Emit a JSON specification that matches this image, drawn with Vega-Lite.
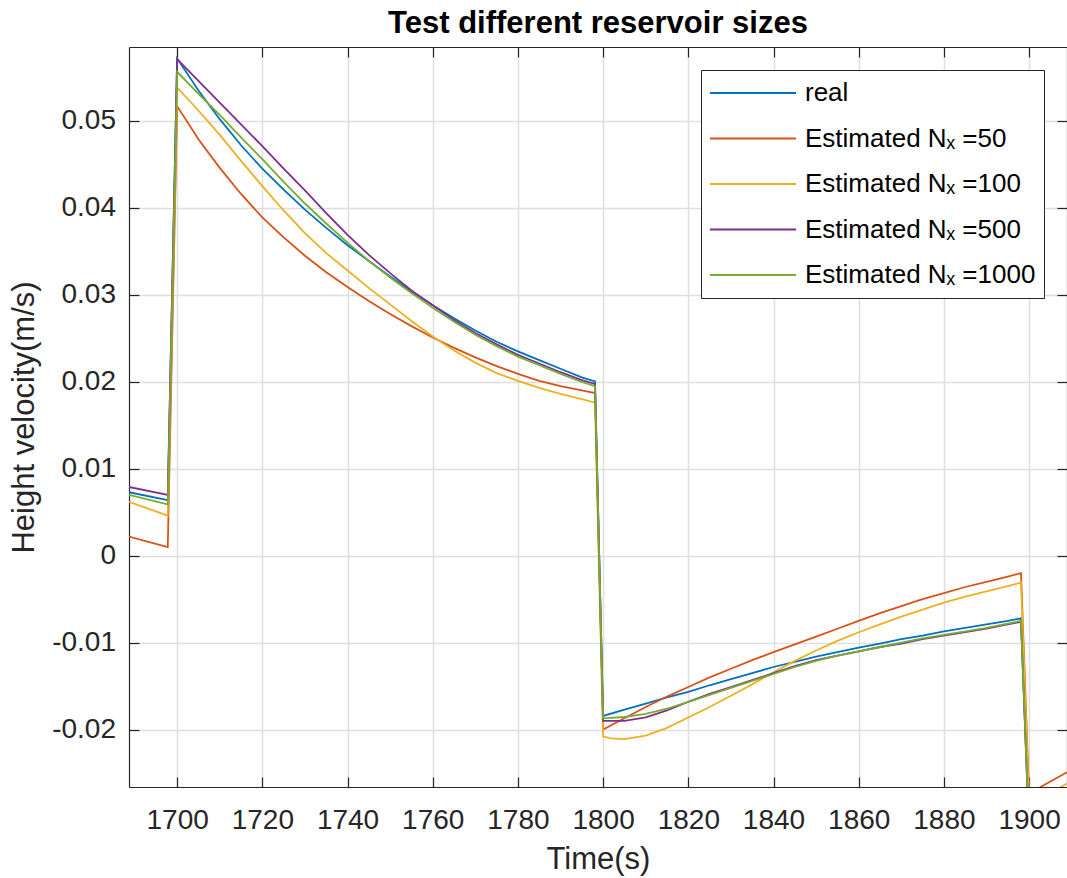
{
  "$schema": "https://vega.github.io/schema/vega-lite/v6.json",
  "width": 938,
  "height": 740,
  "autosize": {"type": "none"},
  "padding": {"left": 129, "top": 47, "right": 0, "bottom": 91},
  "background": "white",
  "title": {"text": "Test different reservoir sizes", "font": "Liberation Sans", "fontSize": 31, "fontWeight": "bold", "color": "black", "anchor": "middle", "baseline": "alphabetic", "offset": 12, "dy": 30},
  "config": {"view": {"stroke": null}},
  "datasets": {
    "curves": [
      {"s": "real", "t": 1688.7, "v": 0.0073}, {"s": "real", "t": 1697.8, "v": 0.0064},
      {"s": "real", "t": 1700, "v": 0.0572}, {"s": "real", "t": 1705, "v": 0.0535}, {"s": "real", "t": 1710, "v": 0.0502}, {"s": "real", "t": 1715, "v": 0.0472},
      {"s": "real", "t": 1720, "v": 0.0445}, {"s": "real", "t": 1725, "v": 0.0421}, {"s": "real", "t": 1730, "v": 0.0398}, {"s": "real", "t": 1735, "v": 0.0377},
      {"s": "real", "t": 1740, "v": 0.0357}, {"s": "real", "t": 1745, "v": 0.0339}, {"s": "real", "t": 1750, "v": 0.0321}, {"s": "real", "t": 1755, "v": 0.0304},
      {"s": "real", "t": 1760, "v": 0.0288}, {"s": "real", "t": 1765, "v": 0.0273}, {"s": "real", "t": 1770, "v": 0.0259}, {"s": "real", "t": 1775, "v": 0.0246},
      {"s": "real", "t": 1780, "v": 0.0235}, {"s": "real", "t": 1785, "v": 0.0225}, {"s": "real", "t": 1790, "v": 0.0215}, {"s": "real", "t": 1795, "v": 0.0205},
      {"s": "real", "t": 1798.1, "v": 0.02005},
      {"s": "real", "t": 1800, "v": -0.01843}, {"s": "real", "t": 1805, "v": -0.0177}, {"s": "real", "t": 1810, "v": -0.017}, {"s": "real", "t": 1815, "v": -0.0163},
      {"s": "real", "t": 1820, "v": -0.01567}, {"s": "real", "t": 1825, "v": -0.0149}, {"s": "real", "t": 1830, "v": -0.0142}, {"s": "real", "t": 1835, "v": -0.0135},
      {"s": "real", "t": 1840, "v": -0.0128}, {"s": "real", "t": 1845, "v": -0.0122}, {"s": "real", "t": 1850, "v": -0.0116}, {"s": "real", "t": 1855, "v": -0.0111},
      {"s": "real", "t": 1860, "v": -0.01056}, {"s": "real", "t": 1865, "v": -0.0101}, {"s": "real", "t": 1870, "v": -0.0096}, {"s": "real", "t": 1875, "v": -0.0092},
      {"s": "real", "t": 1880, "v": -0.0087}, {"s": "real", "t": 1885, "v": -0.0083}, {"s": "real", "t": 1890, "v": -0.0079}, {"s": "real", "t": 1895, "v": -0.0075},
      {"s": "real", "t": 1898.1, "v": -0.0072},
      {"s": "real", "t": 1900, "v": -0.0312}, {"s": "real", "t": 1908.9, "v": -0.0298},

      {"s": "Estimated Nₓ =50", "t": 1688.7, "v": 0.0022}, {"s": "Estimated Nₓ =50", "t": 1697.8, "v": 0.001},
      {"s": "Estimated Nₓ =50", "t": 1700, "v": 0.0517}, {"s": "Estimated Nₓ =50", "t": 1705, "v": 0.0479}, {"s": "Estimated Nₓ =50", "t": 1710, "v": 0.0446}, {"s": "Estimated Nₓ =50", "t": 1715, "v": 0.0416},
      {"s": "Estimated Nₓ =50", "t": 1720, "v": 0.0389}, {"s": "Estimated Nₓ =50", "t": 1725, "v": 0.0366}, {"s": "Estimated Nₓ =50", "t": 1730, "v": 0.0345}, {"s": "Estimated Nₓ =50", "t": 1735, "v": 0.0326},
      {"s": "Estimated Nₓ =50", "t": 1740, "v": 0.0309}, {"s": "Estimated Nₓ =50", "t": 1745, "v": 0.0293}, {"s": "Estimated Nₓ =50", "t": 1750, "v": 0.0278}, {"s": "Estimated Nₓ =50", "t": 1755, "v": 0.0264},
      {"s": "Estimated Nₓ =50", "t": 1760, "v": 0.0251}, {"s": "Estimated Nₓ =50", "t": 1765, "v": 0.0239}, {"s": "Estimated Nₓ =50", "t": 1770, "v": 0.0228}, {"s": "Estimated Nₓ =50", "t": 1775, "v": 0.0218},
      {"s": "Estimated Nₓ =50", "t": 1780, "v": 0.0209}, {"s": "Estimated Nₓ =50", "t": 1785, "v": 0.0201}, {"s": "Estimated Nₓ =50", "t": 1790, "v": 0.0195}, {"s": "Estimated Nₓ =50", "t": 1795, "v": 0.019},
      {"s": "Estimated Nₓ =50", "t": 1798.1, "v": 0.0187},
      {"s": "Estimated Nₓ =50", "t": 1800, "v": -0.02}, {"s": "Estimated Nₓ =50", "t": 1805, "v": -0.0187}, {"s": "Estimated Nₓ =50", "t": 1810, "v": -0.0174}, {"s": "Estimated Nₓ =50", "t": 1815, "v": -0.0162},
      {"s": "Estimated Nₓ =50", "t": 1820, "v": -0.0151}, {"s": "Estimated Nₓ =50", "t": 1825, "v": -0.014}, {"s": "Estimated Nₓ =50", "t": 1830, "v": -0.013}, {"s": "Estimated Nₓ =50", "t": 1835, "v": -0.012},
      {"s": "Estimated Nₓ =50", "t": 1840, "v": -0.0111}, {"s": "Estimated Nₓ =50", "t": 1845, "v": -0.0102}, {"s": "Estimated Nₓ =50", "t": 1850, "v": -0.0093}, {"s": "Estimated Nₓ =50", "t": 1855, "v": -0.0084},
      {"s": "Estimated Nₓ =50", "t": 1860, "v": -0.0075}, {"s": "Estimated Nₓ =50", "t": 1865, "v": -0.0066}, {"s": "Estimated Nₓ =50", "t": 1870, "v": -0.0058}, {"s": "Estimated Nₓ =50", "t": 1875, "v": -0.005},
      {"s": "Estimated Nₓ =50", "t": 1880, "v": -0.0043}, {"s": "Estimated Nₓ =50", "t": 1885, "v": -0.0036}, {"s": "Estimated Nₓ =50", "t": 1890, "v": -0.003}, {"s": "Estimated Nₓ =50", "t": 1895, "v": -0.0024},
      {"s": "Estimated Nₓ =50", "t": 1898.1, "v": -0.002},
      {"s": "Estimated Nₓ =50", "t": 1900, "v": -0.0275}, {"s": "Estimated Nₓ =50", "t": 1902.7, "v": -0.0266}, {"s": "Estimated Nₓ =50", "t": 1908.9, "v": -0.0249},

      {"s": "Estimated Nₓ =100", "t": 1688.7, "v": 0.0062}, {"s": "Estimated Nₓ =100", "t": 1697.8, "v": 0.0046},
      {"s": "Estimated Nₓ =100", "t": 1700, "v": 0.05385}, {"s": "Estimated Nₓ =100", "t": 1705, "v": 0.0512}, {"s": "Estimated Nₓ =100", "t": 1710, "v": 0.0484}, {"s": "Estimated Nₓ =100", "t": 1715, "v": 0.0454},
      {"s": "Estimated Nₓ =100", "t": 1720, "v": 0.0425}, {"s": "Estimated Nₓ =100", "t": 1725, "v": 0.0397}, {"s": "Estimated Nₓ =100", "t": 1730, "v": 0.0371}, {"s": "Estimated Nₓ =100", "t": 1735, "v": 0.0348},
      {"s": "Estimated Nₓ =100", "t": 1740, "v": 0.0328}, {"s": "Estimated Nₓ =100", "t": 1745, "v": 0.0308}, {"s": "Estimated Nₓ =100", "t": 1750, "v": 0.0289}, {"s": "Estimated Nₓ =100", "t": 1755, "v": 0.027},
      {"s": "Estimated Nₓ =100", "t": 1760, "v": 0.0252}, {"s": "Estimated Nₓ =100", "t": 1765, "v": 0.0236}, {"s": "Estimated Nₓ =100", "t": 1770, "v": 0.0222}, {"s": "Estimated Nₓ =100", "t": 1775, "v": 0.021},
      {"s": "Estimated Nₓ =100", "t": 1780, "v": 0.0201}, {"s": "Estimated Nₓ =100", "t": 1785, "v": 0.0193}, {"s": "Estimated Nₓ =100", "t": 1790, "v": 0.0186}, {"s": "Estimated Nₓ =100", "t": 1795, "v": 0.018},
      {"s": "Estimated Nₓ =100", "t": 1798.1, "v": 0.0176},
      {"s": "Estimated Nₓ =100", "t": 1800, "v": -0.0208}, {"s": "Estimated Nₓ =100", "t": 1802, "v": -0.021}, {"s": "Estimated Nₓ =100", "t": 1805, "v": -0.0211}, {"s": "Estimated Nₓ =100", "t": 1810, "v": -0.0207},
      {"s": "Estimated Nₓ =100", "t": 1815, "v": -0.0198}, {"s": "Estimated Nₓ =100", "t": 1820, "v": -0.0186}, {"s": "Estimated Nₓ =100", "t": 1825, "v": -0.0174}, {"s": "Estimated Nₓ =100", "t": 1830, "v": -0.0161},
      {"s": "Estimated Nₓ =100", "t": 1835, "v": -0.0148}, {"s": "Estimated Nₓ =100", "t": 1840, "v": -0.0134}, {"s": "Estimated Nₓ =100", "t": 1845, "v": -0.0121}, {"s": "Estimated Nₓ =100", "t": 1850, "v": -0.0109},
      {"s": "Estimated Nₓ =100", "t": 1855, "v": -0.0098}, {"s": "Estimated Nₓ =100", "t": 1860, "v": -0.0088}, {"s": "Estimated Nₓ =100", "t": 1865, "v": -0.0079}, {"s": "Estimated Nₓ =100", "t": 1870, "v": -0.007},
      {"s": "Estimated Nₓ =100", "t": 1875, "v": -0.0062}, {"s": "Estimated Nₓ =100", "t": 1880, "v": -0.0054}, {"s": "Estimated Nₓ =100", "t": 1885, "v": -0.0047}, {"s": "Estimated Nₓ =100", "t": 1890, "v": -0.0041},
      {"s": "Estimated Nₓ =100", "t": 1895, "v": -0.0035}, {"s": "Estimated Nₓ =100", "t": 1898.1, "v": -0.0031},
      {"s": "Estimated Nₓ =100", "t": 1900, "v": -0.0279}, {"s": "Estimated Nₓ =100", "t": 1903, "v": -0.0281}, {"s": "Estimated Nₓ =100", "t": 1907.5, "v": -0.0266}, {"s": "Estimated Nₓ =100", "t": 1908.9, "v": -0.0262},

      {"s": "Estimated Nₓ =500", "t": 1688.7, "v": 0.0079}, {"s": "Estimated Nₓ =500", "t": 1697.8, "v": 0.007},
      {"s": "Estimated Nₓ =500", "t": 1700, "v": 0.0571}, {"s": "Estimated Nₓ =500", "t": 1705, "v": 0.0546}, {"s": "Estimated Nₓ =500", "t": 1710, "v": 0.0521}, {"s": "Estimated Nₓ =500", "t": 1715, "v": 0.0496},
      {"s": "Estimated Nₓ =500", "t": 1720, "v": 0.0471}, {"s": "Estimated Nₓ =500", "t": 1725, "v": 0.0445}, {"s": "Estimated Nₓ =500", "t": 1730, "v": 0.042}, {"s": "Estimated Nₓ =500", "t": 1735, "v": 0.0394},
      {"s": "Estimated Nₓ =500", "t": 1740, "v": 0.0369}, {"s": "Estimated Nₓ =500", "t": 1745, "v": 0.0346}, {"s": "Estimated Nₓ =500", "t": 1750, "v": 0.0325}, {"s": "Estimated Nₓ =500", "t": 1755, "v": 0.0305},
      {"s": "Estimated Nₓ =500", "t": 1760, "v": 0.0288}, {"s": "Estimated Nₓ =500", "t": 1765, "v": 0.0271}, {"s": "Estimated Nₓ =500", "t": 1770, "v": 0.0256}, {"s": "Estimated Nₓ =500", "t": 1775, "v": 0.0243},
      {"s": "Estimated Nₓ =500", "t": 1780, "v": 0.0231}, {"s": "Estimated Nₓ =500", "t": 1785, "v": 0.0221}, {"s": "Estimated Nₓ =500", "t": 1790, "v": 0.0211}, {"s": "Estimated Nₓ =500", "t": 1795, "v": 0.0202},
      {"s": "Estimated Nₓ =500", "t": 1798.1, "v": 0.01975},
      {"s": "Estimated Nₓ =500", "t": 1800, "v": -0.019}, {"s": "Estimated Nₓ =500", "t": 1805, "v": -0.019}, {"s": "Estimated Nₓ =500", "t": 1810, "v": -0.0186}, {"s": "Estimated Nₓ =500", "t": 1815, "v": -0.0178},
      {"s": "Estimated Nₓ =500", "t": 1820, "v": -0.0168}, {"s": "Estimated Nₓ =500", "t": 1825, "v": -0.0159}, {"s": "Estimated Nₓ =500", "t": 1830, "v": -0.0151}, {"s": "Estimated Nₓ =500", "t": 1835, "v": -0.0143},
      {"s": "Estimated Nₓ =500", "t": 1840, "v": -0.0135}, {"s": "Estimated Nₓ =500", "t": 1845, "v": -0.0127}, {"s": "Estimated Nₓ =500", "t": 1850, "v": -0.012}, {"s": "Estimated Nₓ =500", "t": 1855, "v": -0.0115},
      {"s": "Estimated Nₓ =500", "t": 1860, "v": -0.011}, {"s": "Estimated Nₓ =500", "t": 1865, "v": -0.0105}, {"s": "Estimated Nₓ =500", "t": 1870, "v": -0.0101}, {"s": "Estimated Nₓ =500", "t": 1875, "v": -0.0096},
      {"s": "Estimated Nₓ =500", "t": 1880, "v": -0.0092}, {"s": "Estimated Nₓ =500", "t": 1885, "v": -0.0088}, {"s": "Estimated Nₓ =500", "t": 1890, "v": -0.0084}, {"s": "Estimated Nₓ =500", "t": 1895, "v": -0.0079},
      {"s": "Estimated Nₓ =500", "t": 1898.1, "v": -0.0076},
      {"s": "Estimated Nₓ =500", "t": 1900, "v": -0.032}, {"s": "Estimated Nₓ =500", "t": 1908.9, "v": -0.0304},

      {"s": "Estimated Nₓ =1000", "t": 1688.7, "v": 0.007}, {"s": "Estimated Nₓ =1000", "t": 1697.8, "v": 0.0059},
      {"s": "Estimated Nₓ =1000", "t": 1700, "v": 0.05565}, {"s": "Estimated Nₓ =1000", "t": 1705, "v": 0.0531}, {"s": "Estimated Nₓ =1000", "t": 1710, "v": 0.0507}, {"s": "Estimated Nₓ =1000", "t": 1715, "v": 0.0481},
      {"s": "Estimated Nₓ =1000", "t": 1720, "v": 0.0456}, {"s": "Estimated Nₓ =1000", "t": 1725, "v": 0.043}, {"s": "Estimated Nₓ =1000", "t": 1730, "v": 0.0405}, {"s": "Estimated Nₓ =1000", "t": 1735, "v": 0.0382},
      {"s": "Estimated Nₓ =1000", "t": 1740, "v": 0.036}, {"s": "Estimated Nₓ =1000", "t": 1745, "v": 0.0339}, {"s": "Estimated Nₓ =1000", "t": 1750, "v": 0.032}, {"s": "Estimated Nₓ =1000", "t": 1755, "v": 0.0302},
      {"s": "Estimated Nₓ =1000", "t": 1760, "v": 0.0285}, {"s": "Estimated Nₓ =1000", "t": 1765, "v": 0.0269}, {"s": "Estimated Nₓ =1000", "t": 1770, "v": 0.0254}, {"s": "Estimated Nₓ =1000", "t": 1775, "v": 0.0241},
      {"s": "Estimated Nₓ =1000", "t": 1780, "v": 0.0229}, {"s": "Estimated Nₓ =1000", "t": 1785, "v": 0.0219}, {"s": "Estimated Nₓ =1000", "t": 1790, "v": 0.0209}, {"s": "Estimated Nₓ =1000", "t": 1795, "v": 0.02},
      {"s": "Estimated Nₓ =1000", "t": 1798.1, "v": 0.0195},
      {"s": "Estimated Nₓ =1000", "t": 1800, "v": -0.0187}, {"s": "Estimated Nₓ =1000", "t": 1805, "v": -0.01855}, {"s": "Estimated Nₓ =1000", "t": 1810, "v": -0.0182}, {"s": "Estimated Nₓ =1000", "t": 1815, "v": -0.0176},
      {"s": "Estimated Nₓ =1000", "t": 1820, "v": -0.0168}, {"s": "Estimated Nₓ =1000", "t": 1825, "v": -0.016}, {"s": "Estimated Nₓ =1000", "t": 1830, "v": -0.0152}, {"s": "Estimated Nₓ =1000", "t": 1835, "v": -0.0144},
      {"s": "Estimated Nₓ =1000", "t": 1840, "v": -0.0136}, {"s": "Estimated Nₓ =1000", "t": 1845, "v": -0.0128}, {"s": "Estimated Nₓ =1000", "t": 1850, "v": -0.0121}, {"s": "Estimated Nₓ =1000", "t": 1855, "v": -0.0115},
      {"s": "Estimated Nₓ =1000", "t": 1860, "v": -0.011}, {"s": "Estimated Nₓ =1000", "t": 1865, "v": -0.0105}, {"s": "Estimated Nₓ =1000", "t": 1870, "v": -0.01}, {"s": "Estimated Nₓ =1000", "t": 1875, "v": -0.0095},
      {"s": "Estimated Nₓ =1000", "t": 1880, "v": -0.0091}, {"s": "Estimated Nₓ =1000", "t": 1885, "v": -0.0087}, {"s": "Estimated Nₓ =1000", "t": 1890, "v": -0.0083}, {"s": "Estimated Nₓ =1000", "t": 1895, "v": -0.0078},
      {"s": "Estimated Nₓ =1000", "t": 1898.1, "v": -0.0075},
      {"s": "Estimated Nₓ =1000", "t": 1900, "v": -0.0316}, {"s": "Estimated Nₓ =1000", "t": 1908.9, "v": -0.0301}
    ]
  },
  "data": {"name": "curves"},
  "layer": [
    {
      "mark": {"type": "line", "clip": true, "strokeWidth": 1.8},
      "encoding": {
        "x": {"field": "t", "type": "quantitative",
          "scale": {"domain": [1688.7, 1908.9], "nice": false, "zero": false},
          "axis": {"orient": "bottom", "values": [1700, 1720, 1740, 1760, 1780, 1800, 1820, 1840, 1860, 1880, 1900], "format": "d",
            "grid": true, "gridColor": "#dfdfdf", "gridWidth": 1.5,
            "domainColor": "#262626", "domainWidth": 1.2, "tickColor": "#262626", "tickWidth": 1.2, "tickSize": -10,
            "labelFont": "Liberation Sans", "labelFontSize": 28, "labelColor": "#262626", "labelPadding": 29, "labelFlush": false, "labelOverlap": false,
            "title": "Time(s)", "titleFont": "Liberation Sans", "titleFontSize": 31, "titleFontWeight": "normal", "titleColor": "#262626",
            "titleX": 469, "titleY": 81, "titleBaseline": "alphabetic", "titleAlign": "center"}},
        "y": {"field": "v", "type": "quantitative",
          "scale": {"domain": [-0.0266, 0.0585], "nice": false, "zero": false},
          "axis": {"orient": "left", "values": [-0.02, -0.01, 0, 0.01, 0.02, 0.03, 0.04, 0.05],
            "labelExpr": "(datum.value < 0 ? '-' : '') + (datum.value == 0 ? '0' : format(abs(datum.value), '.2f'))",
            "grid": true, "gridColor": "#dfdfdf", "gridWidth": 1.5,
            "domainColor": "#262626", "domainWidth": 1.2, "tickColor": "#262626", "tickWidth": 1.2, "tickSize": -10,
            "labelFont": "Liberation Sans", "labelFontSize": 28, "labelColor": "#262626", "labelPadding": 23.5, "labelFlush": false, "labelOverlap": false,
            "title": "Height velocity(m/s)", "titleFont": "Liberation Sans", "titleFontSize": 31, "titleFontWeight": "normal", "titleColor": "#262626",
            "titleAngle": -90, "titleX": -96, "titleY": 370, "titleBaseline": "alphabetic", "titleAlign": "center"}},
        "color": {"field": "s", "type": "nominal",
          "scale": {"domain": ["real", "Estimated Nₓ =50", "Estimated Nₓ =100", "Estimated Nₓ =500", "Estimated Nₓ =1000"],
                    "range": ["#0072BD", "#D95319", "#EDB120", "#7E2F8E", "#77AC30"]},
          "legend": {"orient": "none", "legendX": 572, "legendY": 23, "title": null,
            "symbolType": "stroke", "symbolSize": 7396, "symbolStrokeWidth": 1.8, "clipHeight": 30,
            "labelFont": "Liberation Sans", "labelFontSize": 26, "labelColor": "black", "labelOffset": 8, "labelLimit": 400,
            "rowPadding": 15.5, "padding": 8, "strokeColor": "#262626", "fillColor": "white", "cornerRadius": 0}}
      }
    },
    {
      "mark": {"type": "point", "opacity": 0},
      "encoding": {
        "x": {"field": "t", "type": "quantitative",
          "axis": {"orient": "top", "values": [1700, 1720, 1740, 1760, 1780, 1800, 1820, 1840, 1860, 1880, 1900], "labels": false, "grid": false, "title": null,
            "domainColor": "#262626", "domainWidth": 1.2, "tickColor": "#262626", "tickWidth": 1.2, "tickSize": -10}},
        "y": {"field": "v", "type": "quantitative",
          "axis": {"orient": "right", "values": [-0.02, -0.01, 0, 0.01, 0.02, 0.03, 0.04, 0.05], "labels": false, "grid": false, "title": null,
            "domainColor": "#262626", "domainWidth": 1.2, "tickColor": "#262626", "tickWidth": 1.2, "tickSize": -10}}
      }
    }
  ],
  "resolve": {"axis": {"x": "independent", "y": "independent"}}
}
